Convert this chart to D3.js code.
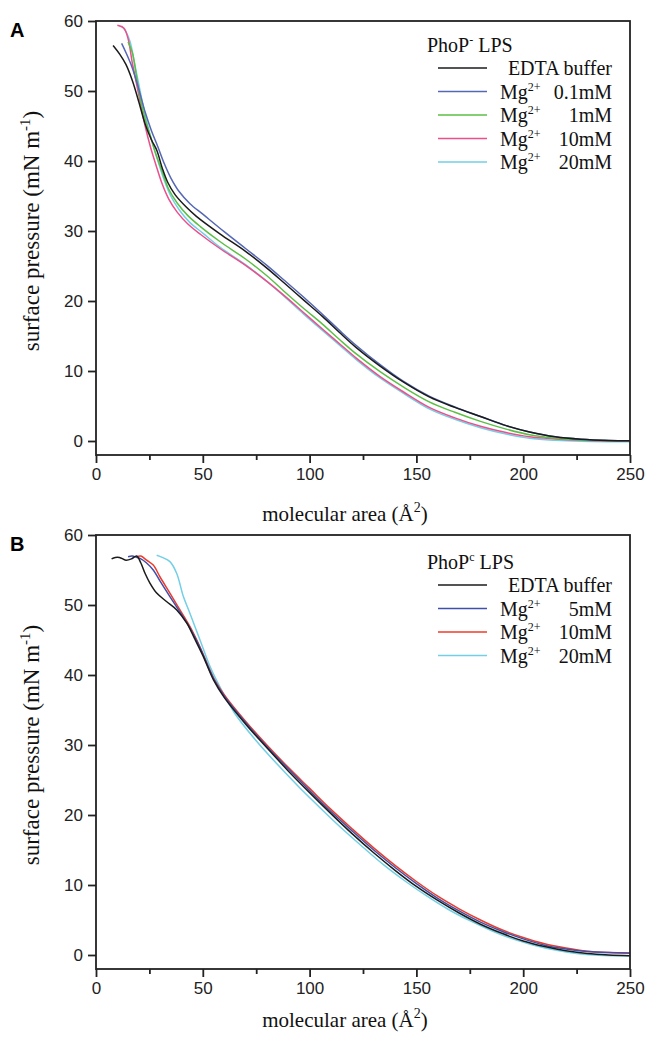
<!DOCTYPE html>
<html>
<head>
<meta charset="utf-8">
<script src="https://cdn.jsdelivr.net/npm/d3@7.9.0/dist/d3.min.js"></script>
<style>
  body { margin: 0; background: #fff; }
  svg { display: block; }
  .tick text { font-family: "Liberation Sans", Arial, sans-serif; font-size: 17px; fill: #222; }
  .serif { font-family: "Liberation Serif", "Times New Roman", serif; fill: #111; }
</style>
</head>
<body>
<svg width="647" height="1037"></svg>
<script>
// panel A: PhoP- LPS, [molecular area, surface pressure]
const edtaA = [[8,56.5],[11,55.3],[14,53.8],[17,51.5],[20,48.5],[23,45.3],[26,43],[28.5,41.5],[31,39],[33.5,37],[37,35.2],[42,33.5],[47,32.1],[58,29.6],[70,27.1],[80,24.7],[88,22.6],[97,20.2],[106,17.8],[114,15.5],[122,13.3],[133,10.7],[144,8.4],[156,6.3],[168,4.8],[180,3.5],[192,2.2],[203,1.3],[215,0.6],[227,0.25],[240,0.08],[250,0.05]];
const mg01A = [[12,56.8],[14,55.5],[17,53.3],[20,50.3],[23,47],[26,44.3],[29,42],[32,39.6],[35,37.6],[39,35.6],[44,33.9],[50,32.4],[60,29.9],[70,27.5],[80,25.1],[88,23],[97,20.6],[106,18.1],[114,15.8],[122,13.6],[133,10.9],[144,8.5],[156,6.4],[168,4.85],[180,3.5],[192,2.2],[203,1.3],[215,0.6],[227,0.25],[240,0.08],[250,0.05]];
const mg1A = [[15,57],[17,55.5],[19,52],[21,48.5],[23,46],[25.5,43.5],[28,41],[31,38.5],[34,36],[38,34],[43,32.2],[49,30.6],[58,28.5],[70,26],[80,23.6],[88,21.4],[97,19],[106,16.7],[114,14.5],[122,12.4],[133,9.9],[144,7.7],[156,5.6],[168,4.1],[180,2.8],[192,1.7],[203,0.9],[215,0.4],[227,0.15],[240,0.05],[250,0.02]];
const mg10A = [[10,59.4],[13,59],[15,57.5],[17,54],[19,51],[21,48],[23,45],[25.5,42],[28,39.5],[31,36.7],[34,34.6],[38,32.7],[43,31],[49,29.5],[58,27.5],[70,25.1],[80,22.8],[88,20.8],[97,18.4],[106,16],[114,13.9],[122,11.8],[133,9.2],[144,7],[156,4.8],[168,3.3],[180,2.1],[192,1.2],[203,0.6],[215,0.3],[227,0.1],[240,0],[250,0]];
const mg20A = [[12,59.3],[14,58.5],[16,57],[18,54],[20,51],[22,48],[24,45.3],[26.5,42.5],[29,40],[32,37.2],[35,35],[39,33],[44,31.2],[50,29.7],[58,27.7],[70,25.2],[80,22.8],[88,20.7],[97,18.2],[106,15.8],[114,13.7],[122,11.6],[133,9],[144,6.8],[156,4.6],[168,3.1],[180,1.9],[192,1],[203,0.4],[215,0.1],[227,-0.05],[240,-0.1],[250,-0.1]];

// panel B: PhoPc LPS
const edtaB = [[7.3,56.6],[9,56.8],[11,56.8],[14,56.4],[16.7,56.6],[19,57],[21,56],[23,54.5],[25.3,53.1],[28.4,51.7],[33,50.5],[37.8,49.3],[42.5,47.4],[46,45.3],[50,42.8],[55,39.3],[60,36.8],[70,33],[80,29.6],[90,26.3],[100,23.2],[110,20.2],[120,17.3],[130,14.6],[140,12.1],[150,9.8],[160,7.8],[170,6],[180,4.4],[190,3.1],[200,2],[210,1.2],[220,0.6],[230,0.2],[240,0],[250,-0.1]];
const mg5B = [[15,56.9],[17,57],[19,56.8],[21,56.6],[23.7,56],[26.8,55],[30,53.4],[34.6,51.2],[39.3,49],[44,46.7],[48.7,43.9],[55,39.5],[60,37],[70,33.2],[80,29.8],[90,26.6],[100,23.5],[110,20.5],[120,17.7],[130,15],[140,12.5],[150,10.2],[160,8.1],[170,6.3],[180,4.7],[190,3.4],[200,2.3],[210,1.4],[220,0.85],[230,0.5],[240,0.35],[250,0.3]];
const mg10B = [[19,56.9],[21,57],[23.7,56.4],[26.8,55.7],[30,54],[34.6,51.7],[39.3,49.3],[44,46.9],[48.7,44],[55,39.6],[60,37.2],[70,33.4],[80,30],[90,26.8],[100,23.8],[110,20.8],[120,18],[130,15.3],[140,12.8],[150,10.5],[160,8.4],[170,6.6],[180,5],[190,3.6],[200,2.5],[210,1.6],[220,1],[230,0.55],[240,0.35],[250,0.25]];
const mg20B = [[28.4,57.1],[31,56.8],[34.6,56.2],[37.8,54.5],[40.9,51.2],[44,48.8],[48.7,45],[53.4,41.2],[58,38.3],[65,34.5],[75,30.6],[85,27.2],[95,24],[105,21],[115,18.1],[125,15.4],[135,12.8],[145,10.5],[155,8.4],[165,6.5],[175,4.9],[185,3.5],[195,2.3],[205,1.4],[215,0.7],[225,0.2],[235,-0.05],[250,-0.15]];

const xTicks = [0, 50, 100, 150, 200, 250];
const xMinor = [25, 75, 125, 175, 225];
const yTicks = [0, 10, 20, 30, 40, 50, 60];

const panelA = {
  letter: 'A', top: 21, titleGap: 66, legendShift: 0, title: ['PhoP', '-', ' LPS'],
  series: [
    { data: edtaA, color: '#1b1b1b', label: ['EDTA buffer'] },
    { data: mg01A, color: '#5567b5', label: ['Mg', '2+', '0.1mM'] },
    { data: mg1A,  color: '#5cbf45', label: ['Mg', '2+', '1mM'] },
    { data: mg10A, color: '#ec4f8c', label: ['Mg', '2+', '10mM'] },
    { data: mg20A, color: '#72cfe6', label: ['Mg', '2+', '20mM'] }
  ]
};
const panelB = {
  letter: 'B', top: 535, titleGap: 58, legendShift: 3, title: ['PhoP', 'c', ' LPS'],
  series: [
    { data: edtaB, color: '#1b1b1b', label: ['EDTA buffer'] },
    { data: mg5B,  color: '#4050aa', label: ['Mg', '2+', '5mM'] },
    { data: mg10B, color: '#ee3b2b', label: ['Mg', '2+', '10mM'] },
    { data: mg20B, color: '#72cfe6', label: ['Mg', '2+', '20mM'] }
  ]
};

const svg = d3.select('svg');
const left = 96, right = 630, plotH = 434;

function drawPanel(p) {
  const g = svg.append('g').attr('transform', `translate(0,${p.top})`);
  const x = d3.scaleLinear().domain([0, 250]).range([left, right]);
  const y = d3.scaleLinear().domain([-2, 60]).range([plotH, 0]);

  const line = d3.line()
    .x(d => x(d[0]))
    .y(d => y(d[1]))
    .curve(d3.curveCatmullRom);

  // draw in reverse so EDTA sits on top
  p.series.slice().reverse().forEach(s => {
    g.append('path')
      .datum(s.data)
      .attr('d', line)
      .attr('fill', 'none')
      .attr('stroke', s.color)
      .attr('stroke-width', 1.5);
  });

  // frame
  g.append('rect')
    .attr('x', left).attr('y', 0)
    .attr('width', right - left).attr('height', plotH)
    .attr('fill', 'none').attr('stroke', '#222').attr('stroke-width', 1.8);

  const xAxis = g.append('g')
    .attr('transform', `translate(0,${plotH})`)
    .call(d3.axisBottom(x).tickValues(xTicks).tickSize(8).tickPadding(5).tickFormat(d3.format('d')));
  g.append('g')
    .attr('transform', `translate(0,${plotH})`)
    .call(d3.axisBottom(x).tickValues(xMinor).tickSize(5).tickFormat(''))
    .call(a => a.select('.domain').remove());
  const yAxis = g.append('g')
    .attr('transform', `translate(${left},0)`)
    .call(d3.axisLeft(y).tickValues(yTicks).tickSize(8).tickPadding(5));
  [xAxis, yAxis].forEach(a => a.select('.domain').remove());
  g.selectAll('.tick line').attr('stroke', '#222').attr('stroke-width', 1.8);

  // panel letter
  g.append('text')
    .attr('x', 10).attr('y', 16)
    .style('font-family', '"Liberation Sans", Arial, sans-serif')
    .style('font-weight', 'bold').style('font-size', '20px')
    .text(p.letter);

  // x title
  const xt = g.append('text').attr('class', 'serif')
    .attr('x', 345).attr('y', plotH + p.titleGap)
    .attr('text-anchor', 'middle').style('font-size', '21px');
  xt.append('tspan').text('molecular area (Å');
  xt.append('tspan').attr('dy', -9).style('font-size', '14px').text('2');
  xt.append('tspan').attr('dy', 9).text(')');

  // y title
  const yt = g.append('text').attr('class', 'serif')
    .attr('transform', `translate(39,${y(30)}) rotate(-90)`)
    .attr('text-anchor', 'middle').style('font-size', '23px');
  yt.append('tspan').text('surface pressure (mN m');
  yt.append('tspan').attr('dy', -9).style('font-size', '15px').text('-1');
  yt.append('tspan').attr('dy', 9).text(')');

  // legend
  const lg = g.append('g').attr('class', 'serif').style('font-size', '20px')
    .attr('transform', `translate(0,${p.legendShift})`);
  const tt = lg.append('text').attr('x', 427).attr('y', 31);
  tt.append('tspan').text(p.title[0]);
  tt.append('tspan').attr('dy', -8).style('font-size', '12px').text(p.title[1]);
  tt.append('tspan').attr('dy', 8).text(p.title[2]);

  p.series.forEach((s, i) => {
    const ry = 47 + i * 23.5;
    lg.append('line')
      .attr('x1', 438).attr('x2', 487)
      .attr('y1', ry).attr('y2', ry)
      .attr('stroke', s.color).attr('stroke-width', 1.5);
    if (s.label.length === 1) {
      lg.append('text').attr('x', 612).attr('y', ry + 7)
        .attr('text-anchor', 'end').text(s.label[0]);
    } else {
      const t = lg.append('text').attr('x', 500).attr('y', ry + 7);
      t.append('tspan').text(s.label[0]);
      t.append('tspan').attr('dy', -8).style('font-size', '12px').text(s.label[1]);
      lg.append('text').attr('x', 612).attr('y', ry + 7)
        .attr('text-anchor', 'end').text(s.label[2]);
    }
  });
}

drawPanel(panelA);
drawPanel(panelB);
</script>
</body>
</html>
